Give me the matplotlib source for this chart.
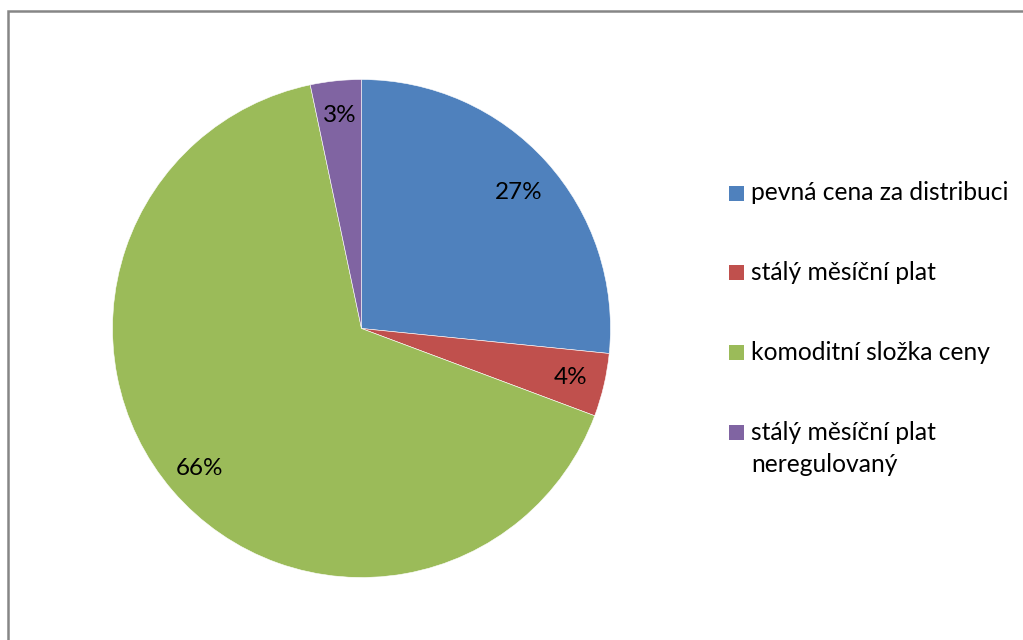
import matplotlib.pyplot as plt
from matplotlib.patches import Rectangle

# slice data (clockwise from 12 o'clock)
labels = ['pevná cena za distribuci', 'stálý měsíční plat',
          'komoditní složka ceny', 'stálý měsíční plat\nneregulovaný']
values = [26.6, 4.1, 66.0, 3.3]
colors = ['#4F81BD', '#C0504D', '#9BBB59', '#8064A2']

plt.rcParams['font.family'] = ['Lato', 'DejaVu Sans']

W, H = 1023, 640
fig = plt.figure(figsize=(W / 100, H / 100), dpi=100)

# outer chart frame (right and bottom edges run off the image)
fig.patches.append(Rectangle((7.5 / W, -0.1), 1.1, 1.1 - 11 / H,
                             transform=fig.transFigure, fill=False,
                             edgecolor='#868686', linewidth=1.8, clip_on=False))

# pie centred at (361.5, 328.5) px, radius 249 px
cx, cy, r = 361.5, 328.5, 249
ax = fig.add_axes([(cx - r) / W, (H - cy - r) / H, 2 * r / W, 2 * r / H])
wedges, texts, autotexts = ax.pie(
    values, colors=colors, startangle=90, counterclock=False, radius=1,
    autopct=lambda p: '%d%%' % int(p + 0.5), pctdistance=0.86,
    wedgeprops=dict(edgecolor='white', linewidth=0.4),
    textprops=dict(fontsize=17.5, color='black'))
ax.set_xlim(-1, 1)
ax.set_ylim(-1, 1)
ax.set_aspect('equal')
autotexts[0].set_position((0.63, 0.545))

# legend drawn by hand to match spacing
baselines = [200.5, 280, 360, 440]
for lab, col, base in zip(labels, colors, baselines):
    fig.patches.append(Rectangle((729 / W, 1 - base / H), 15 / W, 15 / H,
                                 transform=fig.transFigure, facecolor=col,
                                 edgecolor='none'))
    for k, line in enumerate(lab.split('\n')):
        fig.text(751 / W, 1 - (base + 31.5 * k) / H, line, fontsize=17.7,
                 va='baseline', ha='left')

fig.savefig('out.png', dpi=100)
